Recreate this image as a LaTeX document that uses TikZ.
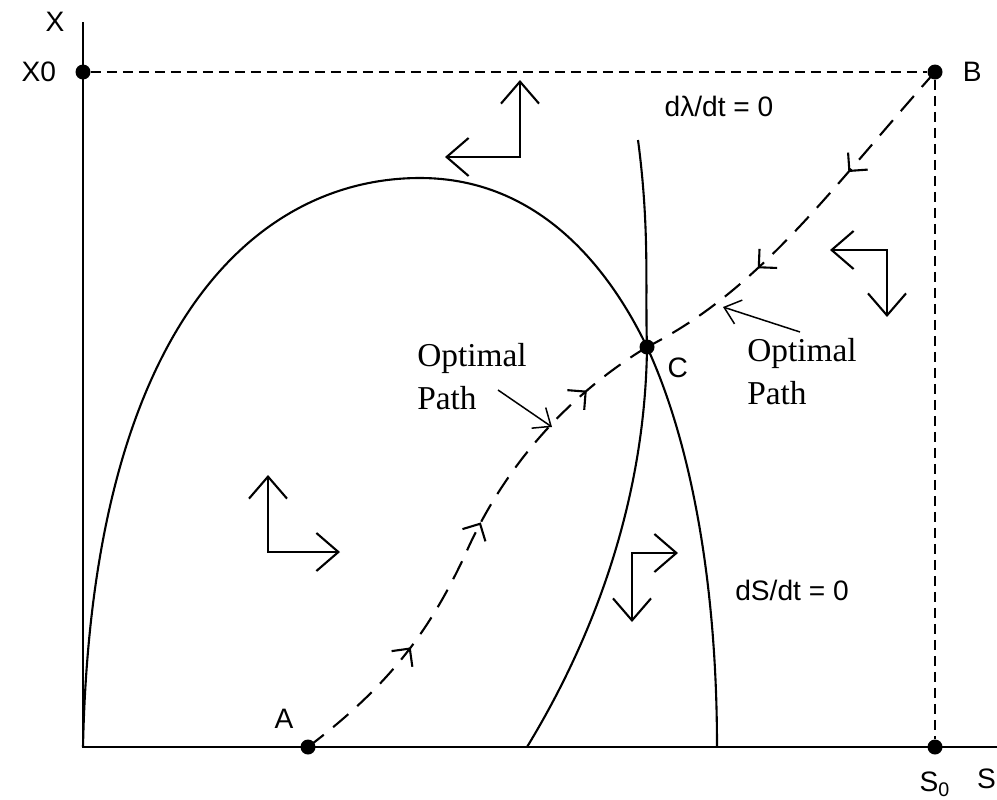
\documentclass[tikz,border=0pt]{standalone}
\usepackage{fontspec}
\setmainfont{Liberation Serif}
\setsansfont{Liberation Sans}
\usetikzlibrary{arrows.meta, positioning, decorations.markings}

\begin{document}
\begin{tikzpicture}[x=0.2mm, y=-0.2mm,
        axis/.style={line width=0.45mm},
        curve/.style={line width=0.42mm},
        guide/.style={line width=0.3mm, dash pattern=on 2mm off 1.2mm},
        dot/.style={circle, fill, inner sep=0pt, minimum size=3mm},
        tag/.style={font=\sffamily\fontsize{16}{18}\selectfont, inner sep=1pt},
        note/.style={font=\fontsize{19}{24.5}\selectfont, align=left, inner sep=1pt},
        phase/.style={line width=0.42mm, line join=miter, arrows={Straight Barb[length=4.4mm, width=7.6mm]-Straight Barb[length=4.4mm, width=7.6mm]}},
        optpath/.style={line width=0.42mm, dash pattern=on 4mm off 2.4mm},
        flowA/.style={postaction={decorate}, decoration={markings,
            mark=at position 0.27 with {\arrow{Straight Barb[length=2.6mm, width=5.2mm]}},
            mark=at position 0.54 with {\arrow{Straight Barb[length=2.6mm, width=5.2mm]}},
            mark=at position 0.86 with {\arrow{Straight Barb[length=2.6mm, width=5.2mm]}}}},
        flowB/.style={postaction={decorate}, decoration={markings,
            mark=at position 0.33 with {\arrow{Straight Barb[length=2.6mm, width=5.2mm]}},
            mark=at position 0.66 with {\arrow{Straight Barb[length=2.6mm, width=5.2mm]}}}},
        pointer/.style={line width=0.3mm, -{Straight Barb[length=3mm, width=5mm]}}
    ]
        \useasboundingbox (0,0) rectangle (997,799);

        % axes
        \coordinate (O) at (83,747);
        \coordinate (ytop) at (83,22);
        \coordinate (xend) at (997,747);
        \draw[axis] (ytop) -- (O) -- (xend);

        % points
        \node[dot] (x0) at (83,72) {};
        \node[dot] (B) at (935,72) {};
        \node[dot] (s0) at (935,747) {};
        \node[dot] (A) at (308,747) {};
        \node[dot] (C) at (647,347) {};

        \node[tag] at (55,22) {X};
        \node[tag, left=3.4mm of x0] {X0};
        \node[tag, right=3.6mm of B] {B};
        \node[tag, above left=2.2mm and 1.4mm of A] {A};
        \node[tag, below right=0.6mm and 2.6mm of C] {C};
        \node[tag, below=3mm of s0] (s0lab) {S\textsubscript{0}};
        \node[tag, anchor=west] at (975,779) {S};

        % dashed guides
        \draw[guide] (x0) -- (B) -- (s0);

        % isoclines
        \draw[curve] (O) .. controls (92,320) and (260,178) .. (420,178)
            .. controls (540,178) and (610,270) .. (C.center)
            .. controls (690,440) and (717,580) .. (717,747);
        \draw[curve] (638,140) .. controls (650,230) and (645,290) .. (C.center)
            .. controls (645,520) and (580,660) .. (527,747);
        \node[tag] at (719,106) {dλ/dt = 0};
        \node[tag] at (792,590) {dS/dt = 0};

        % optimal paths
        \draw[optpath, flowA] (A.center) .. controls (390,685) and (430,630) .. (465,555)
            .. controls (500,475) and (560,400) .. (C.center);
        \draw[optpath, flowB] (B.center) .. controls (830,190) and (760,290) .. (C.center);

        \node[note] (noteL) at (472,377) {Optimal\\Path};
        \node[note] (noteR) at (802,372) {Optimal\\Path};
        \coordinate (pL) at (498,390);
        \coordinate (tL) at (552,427);
        \coordinate (pR) at (800,332);
        \coordinate (tR) at (723,307);
        \draw[pointer] (pL) -- (tL);
        \draw[pointer] (pR) -- (tR);

        % direction arrows
        \draw[phase] (520,80) |- (445,157);
        \draw[phase] (830,250) -| (887,317);
        \draw[phase] (268,475) |- (340,552);
        \draw[phase] (678,553) -| (632,622);
    \end{tikzpicture}
\end{document}
